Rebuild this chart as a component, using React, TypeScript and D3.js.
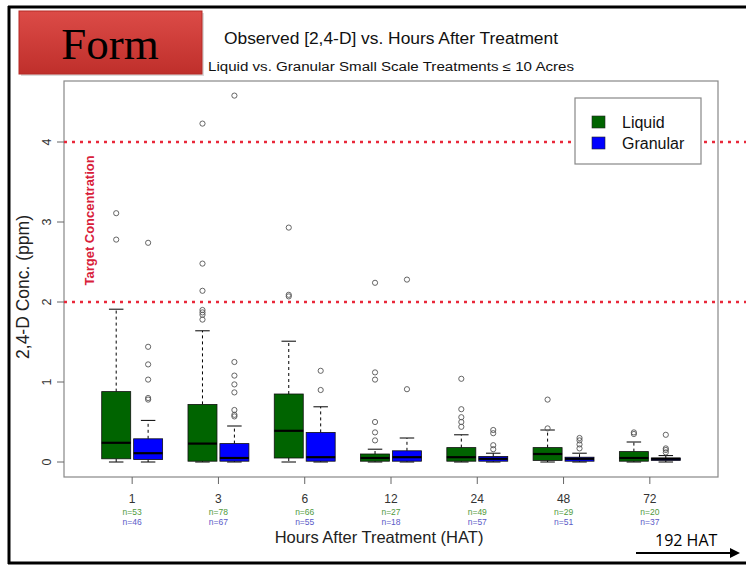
import * as d3 from "d3";

const W = 746;
const H = 565;

// plot area (inner frame of the R boxplot)
const PLOT = { left: 64, right: 718, top: 81, bottom: 477 };

const hours = ["1", "3", "6", "12", "24", "48", "72"];
const liquidN = [53, 78, 66, 27, 49, 29, 20];
const granularN = [46, 67, 55, 18, 57, 51, 37];

// [lower whisker, q1, median, q3, upper whisker]
const liquidStats = [
  [0, 0.04, 0.24, 0.88, 1.91],
  [0, 0.01, 0.23, 0.72, 1.64],
  [0, 0.05, 0.39, 0.85, 1.51],
  [0, 0.01, 0.05, 0.1, 0.16],
  [0, 0.01, 0.06, 0.18, 0.34],
  [0, 0.02, 0.1, 0.18, 0.4],
  [0, 0.01, 0.05, 0.13, 0.25],
];
const granularStats = [
  [0, 0.03, 0.11, 0.29, 0.52],
  [0, 0.01, 0.05, 0.23, 0.45],
  [0, 0.01, 0.06, 0.37, 0.69],
  [0, 0.01, 0.06, 0.14, 0.3],
  [0, 0.01, 0.04, 0.07, 0.11],
  [0, 0.01, 0.04, 0.06, 0.11],
  [0, 0.02, 0.04, 0.05, 0.08],
];
const liquidOutliers = [
  [3.11, 2.78],
  [4.23, 2.48, 2.14, 1.9, 1.87, 1.84, 1.78],
  [2.93, 2.09, 2.07],
  [2.24, 1.12, 1.03, 0.5, 0.37, 0.27],
  [1.04, 0.66, 0.56, 0.5, 0.44],
  [0.78, 0.42],
  [0.37, 0.35],
];
const granularOutliers = [
  [2.74, 1.44, 1.22, 1.03, 0.8, 0.78],
  [4.58, 1.25, 1.08, 0.97, 0.87, 0.65, 0.59, 0.57],
  [1.14, 0.9],
  [2.28, 0.91],
  [0.4, 0.36, 0.21, 0.16],
  [0.3, 0.27, 0.22, 0.17],
  [0.34, 0.17, 0.15, 0.12],
];
const yTicks = [0, 1, 2, 3, 4];
const targetLevels = [2, 4];

const series = [
  { name: "Liquid", color: "#006400", nColor: "#4f9a3c", stats: liquidStats, outliers: liquidOutliers, n: liquidN, offset: -0.185 },
  { name: "Granular", color: "#0000ff", nColor: "#5a5ac8", stats: granularStats, outliers: granularOutliers, n: granularN, offset: 0.185 },
];

const FONT = "'Liberation Sans', Arial, sans-serif";

const xScale = d3.scaleLinear().domain([0.21, 7.79]).range([PLOT.left, PLOT.right]);
const yScale = d3.scaleLinear().domain([-0.1875, 4.7625]).range([PLOT.bottom, PLOT.top]);
const BOX_W = 0.336;

type BoxProps = { center: number; stats: number[]; outliers: number[]; fill: string };

const Box = ({ center, stats, outliers, fill }: BoxProps) => {
  const [lo, q1, med, q3, hi] = stats;
  const x0 = xScale(center - BOX_W / 2);
  const x1 = xScale(center + BOX_W / 2);
  const cx = xScale(center);
  const capHalf = (x1 - x0) / 4;
  return (
    <g>
      <line x1={cx} x2={cx} y1={yScale(q3)} y2={yScale(hi)} stroke="#000" strokeWidth={1} strokeDasharray="3,3" />
      <line x1={cx} x2={cx} y1={yScale(q1)} y2={yScale(lo)} stroke="#000" strokeWidth={1} strokeDasharray="3,3" />
      <line x1={cx - capHalf} x2={cx + capHalf} y1={yScale(hi)} y2={yScale(hi)} stroke="#000" strokeWidth={1} />
      <line x1={cx - capHalf} x2={cx + capHalf} y1={yScale(lo)} y2={yScale(lo)} stroke="#000" strokeWidth={1} />
      <rect x={x0} y={yScale(q3)} width={x1 - x0} height={Math.max(1, yScale(q1) - yScale(q3))} fill={fill} stroke="#111" strokeWidth={0.8} />
      <line x1={x0} x2={x1} y1={yScale(med)} y2={yScale(med)} stroke="#000" strokeWidth={2.2} />
      {outliers.map((v, i) => (
        <circle key={i} cx={cx} cy={yScale(v)} r={2.6} fill="none" stroke="#555" strokeWidth={0.9} />
      ))}
    </g>
  );
};

export default function App() {
  return (
    <svg width={W} height={H} style={{ position: "absolute", left: 0, top: 0, background: "#fff" }} fontFamily={FONT}>
      <defs>
        <linearGradient id="formGrad" x1="0" y1="0" x2="0" y2="1">
          <stop offset="0" stopColor="#dc4b47" />
          <stop offset="1" stopColor="#bf2f2b" />
        </linearGradient>
      </defs>
      <rect x={0} y={0} width={W} height={H} fill="#fff" />

      {/* outer slide frame */}
      <line x1={8} x2={W} y1={7} y2={7} stroke="#000" strokeWidth={3} />
      <line x1={9} x2={9} y1={6} y2={564} stroke="#000" strokeWidth={3} />
      <line x1={8} x2={W} y1={563} y2={563} stroke="#000" strokeWidth={3} />

      {/* "Form" badge */}
      <rect x={21} y={13} width={183} height={63} fill="#999" opacity={0.35} />
      <rect x={19} y={11} width={183} height={63} fill="url(#formGrad)" stroke="#b52a26" strokeWidth={1} />
      <text x={110} y={59} textAnchor="middle" fontFamily="'Liberation Serif', 'Times New Roman', serif" fontSize={45} fill="#000">
        Form
      </text>

      {/* titles */}
      <text x={391} y={44} textAnchor="middle" fontSize={16} fill="#111" textLength={334} lengthAdjust="spacingAndGlyphs">
        Observed [2,4-D] vs. Hours After Treatment
      </text>
      <text x={391} y={71} textAnchor="middle" fontSize={12.5} fill="#111" textLength={366} lengthAdjust="spacingAndGlyphs">
        Liquid vs. Granular Small Scale Treatments ≤ 10 Acres
      </text>

      {/* plot frame */}
      <rect x={PLOT.left} y={PLOT.top} width={PLOT.right - PLOT.left} height={PLOT.bottom - PLOT.top} fill="#fff" stroke="#888" strokeWidth={1.2} />

      {/* target concentration lines */}
      {targetLevels.map((v) => (
        <line key={v} x1={PLOT.left} x2={W} y1={yScale(v)} y2={yScale(v)} stroke="#e8283a" strokeWidth={2.6} strokeDasharray="3,5" />
      ))}
      <text
        transform={`translate(94, ${yScale(3.02)}) rotate(-90)`}
        textAnchor="middle"
        fontSize={13.5}
        fontWeight="bold"
        fill="#d8203a"
        textLength={130}
        lengthAdjust="spacingAndGlyphs"
      >
        Target Concentration
      </text>

      {/* y axis */}
      {yTicks.map((t) => (
        <g key={t}>
          <line x1={PLOT.left - 7} x2={PLOT.left} y1={yScale(t)} y2={yScale(t)} stroke="#666" strokeWidth={1} />
          <text transform={`translate(51, ${yScale(t)}) rotate(-90)`} textAnchor="middle" fontSize={12.5} fill="#333">
            {t}
          </text>
        </g>
      ))}
      <text transform={`translate(29, 287) rotate(-90)`} textAnchor="middle" fontSize={17.5} fill="#222">
        2,4-D Conc. (ppm)
      </text>

      {/* x axis */}
      {hours.map((h, i) => (
        <g key={h}>
          <line x1={xScale(i + 1)} x2={xScale(i + 1)} y1={PLOT.bottom} y2={PLOT.bottom + 7} stroke="#666" strokeWidth={1} />
          <text x={xScale(i + 1)} y={503} textAnchor="middle" fontSize={12} fill="#333">
            {h}
          </text>
          {series.map((s, k) => (
            <text key={s.name} x={xScale(i + 1)} y={515 + k * 10} textAnchor="middle" fontSize={8.5} fill={s.nColor}>
              {`n=${s.n[i]}`}
            </text>
          ))}
        </g>
      ))}
      <text x={379} y={543} textAnchor="middle" fontSize={16.5} fill="#222">
        Hours After Treatment (HAT)
      </text>

      {/* boxes */}
      {hours.map((h, i) =>
        series.map((s) => (
          <Box key={`${h}-${s.name}`} center={i + 1 + s.offset} stats={s.stats[i]} outliers={s.outliers[i]} fill={s.color} />
        ))
      )}

      {/* legend */}
      <rect x={575} y={98} width={126} height={66} fill="#fff" stroke="#888" strokeWidth={1.2} />
      {series.map((s, k) => (
        <g key={s.name}>
          <rect x={592} y={116 + k * 21} width={13} height={12} fill={s.color} stroke="#222" strokeWidth={0.6} />
          <text x={622} y={128 + k * 21} fontSize={16} fill="#111">
            {s.name}
          </text>
        </g>
      ))}

      {/* 192 HAT annotation */}
      <text x={655} y={546} fontSize={16} fill="#000" fontFamily="'Open Sans', 'Liberation Sans', sans-serif">
        192 HAT
      </text>
      <line x1={636} x2={732} y1={553} y2={553} stroke="#000" strokeWidth={2} />
      <path d="M730,548 L740,553 L730,558 Z" fill="#000" />
    </svg>
  );
}
